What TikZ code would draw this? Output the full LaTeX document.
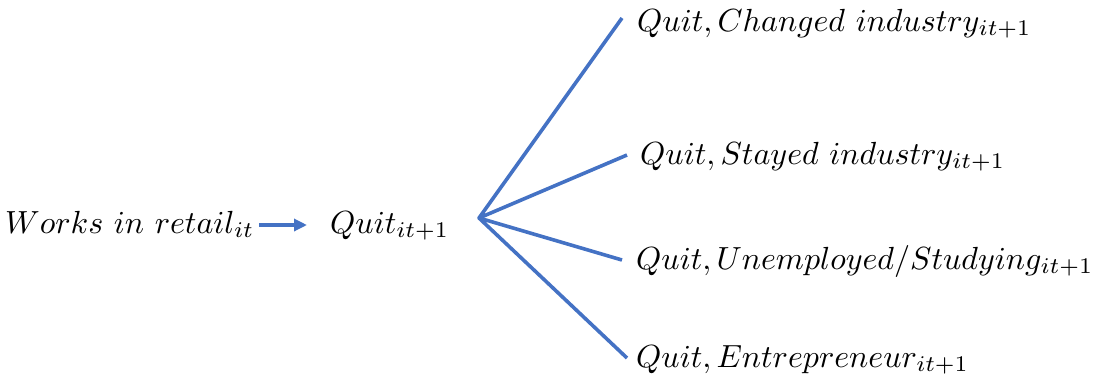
\documentclass[tikz,border=0pt]{standalone}
\usetikzlibrary{arrows.meta,calc}
\definecolor{fanblue}{HTML}{4472C4}
\newcommand{\lblmath}[1]{\scalebox{3.2}{$#1$}}
\tikzset{
  lbl/.style={inner sep=0pt, anchor=base west},
  fanline/.style={draw=fanblue, line width=3.6pt, line join=round},
  arr/.style={draw=fanblue, line width=3.2pt, -{Triangle[length=13pt,width=12pt]}}
}
\begin{document}
\begin{tikzpicture}[x=1pt,y=-1pt]
\useasboundingbox (0,0) rectangle (1101,376);
\node[lbl] (works) at (5,233) {\lblmath{Works\ in\ retail_{it}}};
\node[lbl] (quit) at (330,233) {\lblmath{Quit_{it+1}}};
\node[lbl] (c1) at (637,31) {\lblmath{Quit,Changed\ industry_{it+1}}};
\node[lbl] (c2) at (640,164) {\lblmath{Quit,Stayed\ industry_{it+1}}};
\node[lbl] (c3) at (636,269) {\lblmath{Quit,Unemployed/Studying_{it+1}}};
\node[lbl] (c4) at (636,367) {\lblmath{Quit,Entrepreneur_{it+1}}};
\coordinate (fan) at (479,218);
\coordinate (e1) at (622,18);
\coordinate (e2) at (627,155);
\coordinate (e3) at (622,260);
\coordinate (e4) at (627,358);
\coordinate (a0) at (259,225);
\coordinate (a1) at (307,225);
\draw[arr] (a0) -- (a1);
\draw[fanline] (e1) -- (fan) -- (e2);
\draw[fanline] (e3) -- (fan) -- (e4);
\end{tikzpicture}
\end{document}
